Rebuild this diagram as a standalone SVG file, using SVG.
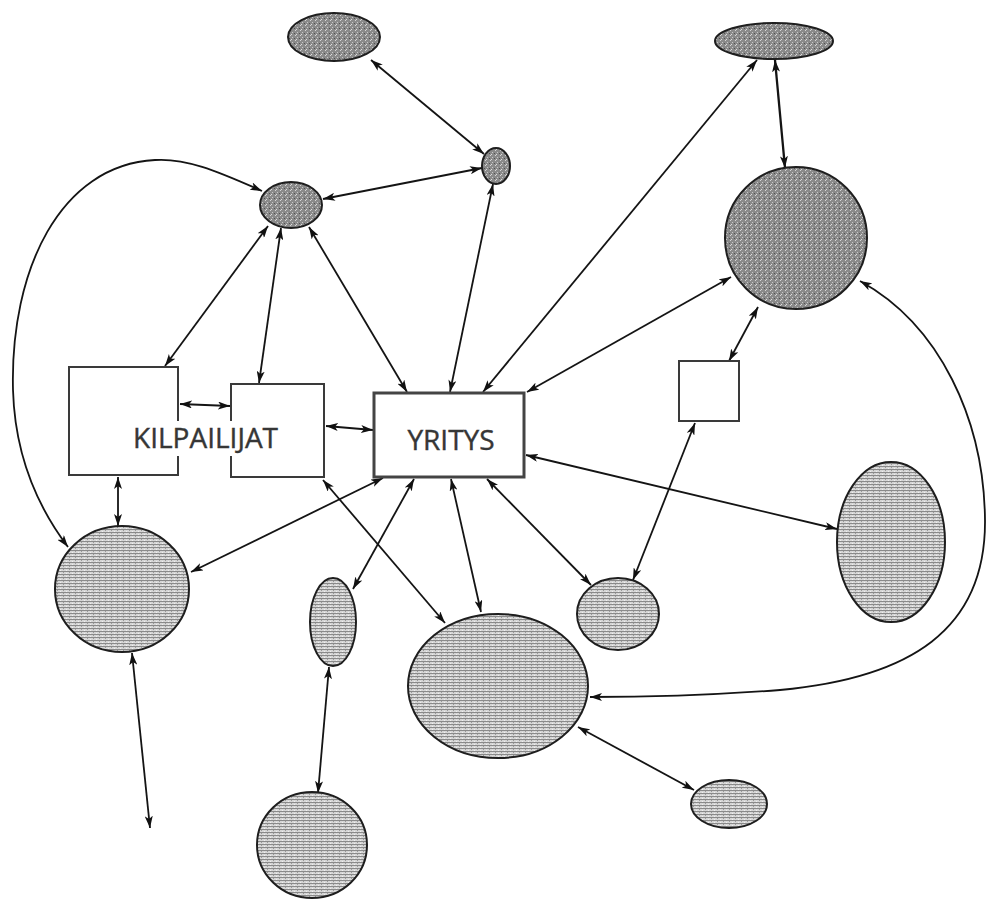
<svg xmlns="http://www.w3.org/2000/svg" width="987" height="902" viewBox="0 0 987 902">
<style>
.dk{fill:url(#pdk);stroke:#1e1e1e;stroke-width:2}
.lt{fill:url(#plt);stroke:#1e1e1e;stroke-width:2}
.box{fill:#fff;stroke:#3a3a3a;stroke-width:2}
.c{fill:none;stroke:#141414;stroke-width:1.8;marker-start:url(#ah);marker-end:url(#ah)}
.lbl{font-family:"Open Sans","Liberation Sans",sans-serif;font-size:28px;fill:#363636;stroke:#363636;stroke-width:0.4}
</style>
<defs>
<pattern id="pdk" width="5" height="5" patternUnits="userSpaceOnUse">
<rect width="5" height="5" fill="#8a8a8a"/>
<rect x="0" y="0" width="1" height="1" fill="#d6d6d6"/>
<rect x="2" y="2" width="1" height="1" fill="#c8c8c8"/>
<rect x="4" y="3" width="1" height="1" fill="#505050"/>
<rect x="1" y="4" width="1" height="1" fill="#dcdcdc"/>
</pattern>
<pattern id="plt" width="6" height="3" patternUnits="userSpaceOnUse">
<rect width="6" height="3" fill="#d6d6d6"/>
<rect y="1" width="6" height="1" fill="#8a8a8a"/>
<rect x="3" y="2" width="1" height="1" fill="#999"/>
<rect x="0" y="0" width="1" height="1" fill="#f0f0f0"/>
</pattern>
<marker id="ah" viewBox="0 0 12 8" refX="12" refY="4" markerWidth="12" markerHeight="8" markerUnits="userSpaceOnUse" orient="auto-start-reverse">
<path d="M0,0 L12,4 L0,8 L3,4 z" fill="#111"/>
</marker>
</defs>
<rect width="987" height="902" fill="#fff"/>

<g id="connectors">
<line class="c" x1="371" y1="60" x2="484" y2="154"/>
<line class="c" x1="323" y1="199" x2="482" y2="168"/>
<path class="c" d="M262,191 C215,170 185,158 155,160 C60,165 10,270 13,390 C15,460 40,510 68,547"/>
<line class="c" x1="268" y1="226" x2="165" y2="366"/>
<line class="c" x1="281" y1="228" x2="259" y2="383"/>
<line class="c" x1="309" y1="227" x2="407" y2="392"/>
<line class="c" x1="493" y1="184" x2="450" y2="392"/>
<line class="c" x1="757" y1="60" x2="483" y2="392"/>
<line class="c" x1="731" y1="277" x2="527" y2="392"/>
<line class="c" x1="775" y1="60" x2="785" y2="168" style="stroke-width:2.3"/>
<line class="c" x1="758" y1="307" x2="729" y2="361"/>
<path class="c" d="M860,281 C940,325 984,420 985,520 C986,630 910,678 780,690 C700,696 640,697 590,697"/>
<line class="c" x1="180" y1="404" x2="230" y2="406"/>
<line class="c" x1="326" y1="426" x2="373" y2="430"/>
<line class="c" x1="118" y1="477" x2="118" y2="526"/>
<line class="c" x1="383" y1="478" x2="191" y2="572"/>
<line class="c" x1="323" y1="480" x2="445" y2="623"/>
<line class="c" x1="414" y1="479" x2="353" y2="589"/>
<line class="c" x1="451" y1="479" x2="481" y2="612"/>
<line class="c" x1="487" y1="479" x2="591" y2="585"/>
<line class="c" x1="526" y1="455" x2="837" y2="529"/>
<line class="c" x1="695" y1="423" x2="633" y2="580"/>
<line class="c" x1="329" y1="667" x2="318" y2="793"/>
<line class="c" x1="132" y1="653" x2="150" y2="828"/>
<line class="c" x1="578" y1="727" x2="694" y2="790"/>
</g>

<g id="nA"><ellipse class="dk" cx="334" cy="37" rx="46" ry="24"/></g>
<g id="nB"><ellipse class="dk" cx="496" cy="166" rx="14" ry="18"/></g>
<g id="nC"><ellipse class="dk" cx="291" cy="205" rx="31" ry="23"/></g>
<g id="nD"><ellipse class="dk" cx="774" cy="41" rx="59" ry="18"/></g>
<g id="nE"><ellipse class="dk" cx="796" cy="238" rx="71" ry="71"/></g>

<g id="nF"><rect class="box" x="69" y="367" width="109" height="108"/></g>
<g id="nG"><rect class="box" x="231" y="384" width="93" height="93"/></g>
<g id="kilpailijat-label">
<rect x="136" y="421" width="138" height="35" fill="#fff"/>
<text class="lbl" x="133" y="448">KILPAILIJAT</text>
</g>
<g id="nH"><rect class="box" x="374" y="393" width="150" height="84" style="stroke-width:3;stroke:#444"/>
<text class="lbl" x="451" y="450" text-anchor="middle">YRITYS</text></g>
<g id="nI"><rect class="box" x="679" y="361" width="60" height="60"/></g>

<g id="nJ"><ellipse class="lt" cx="122" cy="589" rx="67" ry="63"/></g>
<g id="nK"><ellipse class="lt" cx="333" cy="622" rx="23" ry="44"/></g>
<g id="nL"><ellipse class="lt" cx="312" cy="845" rx="55" ry="53"/></g>
<g id="nM"><ellipse class="lt" cx="498" cy="686" rx="90" ry="72"/></g>
<g id="nN"><ellipse class="lt" cx="618" cy="614" rx="41" ry="36"/></g>
<g id="nO"><ellipse class="lt" cx="891" cy="542" rx="54" ry="80"/></g>
<g id="nP"><ellipse class="lt" cx="729" cy="804" rx="38" ry="24"/></g>
</svg>
